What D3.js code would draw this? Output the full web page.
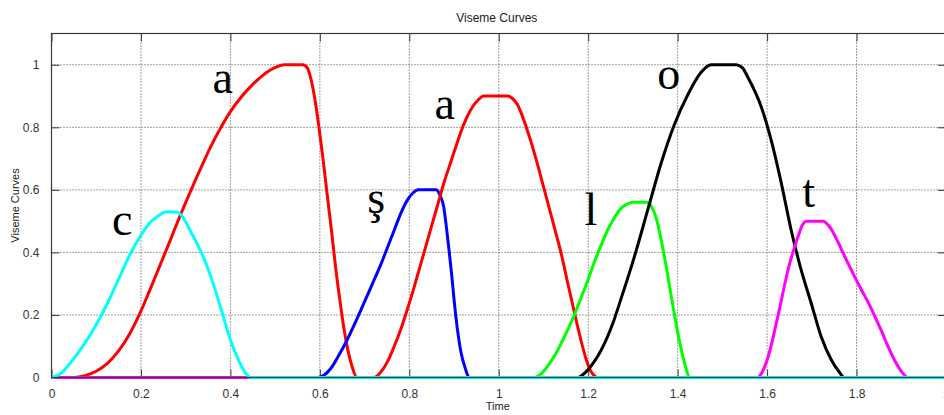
<!DOCTYPE html>
<html><head><meta charset="utf-8">
<script src="https://cdn.jsdelivr.net/npm/d3@7"></script>
<style>html,body{margin:0;padding:0;background:#fff;}svg{display:block;}</style>
</head><body>
<svg id="chart" width="944" height="415"></svg>
<script>
// ---- data ----
const xTicks = [0, 0.2, 0.4, 0.6, 0.8, 1, 1.2, 1.4, 1.6, 1.8, 2];
const yTicks = [0, 0.2, 0.4, 0.6, 0.8, 1];
const titleText = "Viseme Curves";
const xLabel = "Time";
const yLabel = "Viseme Curves";

const a1X = [0, 0.05, 0.075, 0.1, 0.125, 0.15, 0.175, 0.196, 0.22, 0.243, 0.265, 0.284, 0.31, 0.333, 0.355, 0.377, 0.4, 0.422, 0.445, 0.467, 0.49, 0.51, 0.52, 0.562, 0.572, 0.58, 0.59, 0.598, 0.607, 0.616, 0.626, 0.635, 0.645, 0.654, 0.663, 0.672, 0.683, 2];
const a1Y = [0, 0, 0.006, 0.02, 0.045, 0.085, 0.14, 0.2, 0.28, 0.36, 0.437, 0.505, 0.593, 0.667, 0.735, 0.795, 0.85, 0.893, 0.93, 0.96, 0.984, 0.997, 1, 1, 0.99, 0.955, 0.88, 0.8, 0.7, 0.59, 0.47, 0.355, 0.245, 0.155, 0.085, 0.035, 0, 0];

const shX = [0, 0.594, 0.61, 0.624, 0.642, 0.661, 0.68, 0.698, 0.717, 0.736, 0.751, 0.766, 0.781, 0.796, 0.808, 0.82, 0.86, 0.868, 0.877, 0.883, 0.889, 0.895, 0.9, 0.908, 0.915, 0.925, 0.934, 2];
const shY = [0, 0, 0.008, 0.028, 0.07, 0.12, 0.178, 0.236, 0.298, 0.36, 0.415, 0.47, 0.525, 0.568, 0.59, 0.6, 0.6, 0.585, 0.545, 0.48, 0.405, 0.325, 0.25, 0.15, 0.085, 0.03, 0, 0];

const a2X = [0, 0.721, 0.735, 0.751, 0.765, 0.78, 0.795, 0.81, 0.822, 0.833, 0.848, 0.863, 0.878, 0.893, 0.908, 0.922, 0.937, 0.952, 0.967, 1.019, 1.03, 1.042, 1.053, 1.064, 1.075, 1.087, 1.1, 1.116, 1.128, 1.139, 1.153, 1.168, 1.176, 1.184, 1.195, 1.206, 1.215, 1.22, 2];
const a2Y = [0, 0, 0.015, 0.05, 0.095, 0.15, 0.215, 0.285, 0.345, 0.4, 0.475, 0.55, 0.625, 0.69, 0.755, 0.81, 0.855, 0.885, 0.9, 0.9, 0.893, 0.872, 0.835, 0.79, 0.74, 0.68, 0.61, 0.525, 0.46, 0.4, 0.31, 0.215, 0.165, 0.118, 0.06, 0.02, 0.004, 0, 0];

const lX = [0, 1.08, 1.095, 1.11, 1.125, 1.139, 1.154, 1.169, 1.184, 1.199, 1.214, 1.228, 1.243, 1.258, 1.273, 1.288, 1.3, 1.33, 1.342, 1.352, 1.361, 1.37, 1.378, 1.385, 1.393, 1.4, 1.408, 1.415, 1.421, 1.426, 2];
const lY = [0, 0, 0.012, 0.038, 0.07, 0.108, 0.152, 0.2, 0.255, 0.31, 0.37, 0.42, 0.47, 0.51, 0.54, 0.555, 0.56, 0.56, 0.545, 0.51, 0.455, 0.39, 0.325, 0.265, 0.2, 0.145, 0.09, 0.048, 0.018, 0, 0];

const oX = [0, 1.176, 1.195, 1.213, 1.228, 1.243, 1.258, 1.273, 1.303, 1.333, 1.363, 1.393, 1.423, 1.452, 1.475, 1.531, 1.545, 1.557, 1.587, 1.609, 1.632, 1.654, 1.676, 1.699, 1.721, 1.744, 1.76, 1.773, 2];
const oY = [0, 0, 0.018, 0.05, 0.085, 0.13, 0.185, 0.25, 0.385, 0.535, 0.685, 0.81, 0.905, 0.975, 1, 1, 0.99, 0.96, 0.865, 0.76, 0.62, 0.47, 0.345, 0.236, 0.13, 0.055, 0.02, 0, 0];

const tX = [0, 1.579, 1.59, 1.602, 1.624, 1.647, 1.669, 1.678, 1.688, 1.725, 1.738, 1.751, 1.766, 1.781, 1.811, 1.826, 1.841, 1.856, 1.87, 1.885, 1.9, 1.915, 2];
const tY = [0, 0, 0.02, 0.065, 0.195, 0.345, 0.45, 0.485, 0.5, 0.5, 0.485, 0.455, 0.41, 0.365, 0.28, 0.24, 0.195, 0.148, 0.1, 0.055, 0.02, 0, 0];

const cX = [0, 0.02, 0.041, 0.065, 0.086, 0.11, 0.131, 0.155, 0.176, 0.2, 0.22, 0.24, 0.255, 0.28, 0.295, 0.31, 0.33, 0.348, 0.365, 0.38, 0.4, 0.42, 0.435, 0.445, 2];
const cY = [0, 0.012, 0.045, 0.09, 0.135, 0.195, 0.255, 0.33, 0.395, 0.455, 0.495, 0.518, 0.529, 0.529, 0.51, 0.47, 0.415, 0.355, 0.285, 0.215, 0.12, 0.05, 0.012, 0, 0];

const seriesNames = ["a1", "sh", "a2", "l", "o", "t", "c"];
const seriesColors = ["#ff0000", "#0000ff", "#ff0000", "#00ff00", "#000000", "#ff00ff", "#00ffff"];
const seriesXs = [a1X, shX, a2X, lX, oX, tX, cX];
const seriesYs = [a1Y, shY, a2Y, lY, oY, tY, cY];

const letterText = ["c", "a", "ş", "a", "l", "o", "t"];
const letterX = [0.158, 0.383, 0.726, 0.879, 1.206, 1.38, 1.693];
const letterY = [0.455, 0.911, 0.525, 0.827, 0.487, 0.924, 0.544];

// ---- layout ----
const L = 51.5, R = 946, T = 33.5, B = 377.5;
const x = d3.scaleLinear().domain([0, 2]).range([L, R]);
const y = d3.scaleLinear().domain([0, 1.1]).range([B, T]);
const svg = d3.select("#chart");
const axisColor = "#3a3a3a";
const font = "'Liberation Sans', Arial, Helvetica, sans-serif";

// grid
const grid = svg.append("g");
grid.selectAll("line.gx").data(xTicks.filter(d => d > 0 && d < 2)).enter().append("line")
  .attr("x1", d => x(d)).attr("x2", d => x(d)).attr("y1", T).attr("y2", B)
  .attr("stroke", "#444").attr("stroke-width", 1).attr("stroke-dasharray", "1,2");
grid.selectAll("line.gy").data(yTicks.filter(d => d > 0)).enter().append("line")
  .attr("x1", L).attr("x2", R).attr("y1", d => y(d)).attr("y2", d => y(d))
  .attr("stroke", "#444").attr("stroke-width", 1).attr("stroke-dasharray", "1,2");

// axes with inward ticks (all four sides)
const tickLen = 8;
const gB = svg.append("g").attr("transform", `translate(0,${B})`)
  .call(d3.axisBottom(x).tickValues(xTicks).tickFormat(d3.format("")).tickSizeInner(-tickLen).tickSizeOuter(0).tickPadding(tickLen + 4));
const gT = svg.append("g").attr("transform", `translate(0,${T})`)
  .call(d3.axisTop(x).tickValues(xTicks).tickFormat("").tickSizeInner(-tickLen).tickSizeOuter(0));
const gL = svg.append("g").attr("transform", `translate(${L},0)`)
  .call(d3.axisLeft(y).tickValues(yTicks).tickFormat(d3.format("")).tickSizeInner(-tickLen).tickSizeOuter(0).tickPadding(tickLen + 4));
const gR = svg.append("g").attr("transform", `translate(${R},0)`)
  .call(d3.axisRight(y).tickValues(yTicks).tickFormat("").tickSizeInner(-tickLen).tickSizeOuter(0));
[gB, gT, gL, gR].forEach(g => {
  g.select(".domain").remove();
  g.selectAll(".tick line").attr("stroke", axisColor);
  g.selectAll("text").attr("fill", "#333").style("font-family", font).style("font-size", "12px");
});

// curves
const line = d3.line().x(d => x(d[0])).y(d => y(d[1])).curve(d3.curveMonotoneX);
const plot = svg.append("g");
seriesNames.forEach((n, i) => {
  const pts = seriesXs[i].map((v, j) => [v, seriesYs[i][j]]);
  plot.append("path").datum(pts).attr("d", line)
    .attr("fill", "none").attr("stroke", seriesColors[i]).attr("stroke-width", 3)
    .attr("stroke-linejoin", "round");
});

// box
svg.append("rect").attr("x", L).attr("y", T).attr("width", R - L).attr("height", B - T)
  .attr("fill", "none").attr("stroke", axisColor).attr("stroke-width", 1.2);

// letters
svg.append("g").selectAll("text").data(letterText).enter().append("text")
  .attr("x", (d, i) => x(letterX[i])).attr("y", (d, i) => y(letterY[i]))
  .attr("text-anchor", "middle")
  .style("font-family", "'Liberation Serif', 'Times New Roman', serif")
  .style("font-size", "46px").attr("fill", "#000").text(d => d);

// titles
svg.append("text").attr("x", (L + 946) / 2 - 2).attr("y", 22).attr("text-anchor", "middle")
  .style("font-family", font).style("font-size", "12px").attr("fill", "#222").text(titleText);
svg.append("text").attr("x", (L + 946) / 2 - 1).attr("y", 410).attr("text-anchor", "middle")
  .style("font-family", font).style("font-size", "11px").attr("fill", "#222").text(xLabel);
svg.append("text").attr("transform", `translate(19,${(T + B) / 2}) rotate(-90)`).attr("text-anchor", "middle")
  .style("font-family", font).style("font-size", "11px").attr("fill", "#222").text(yLabel);
</script>
</body></html>
